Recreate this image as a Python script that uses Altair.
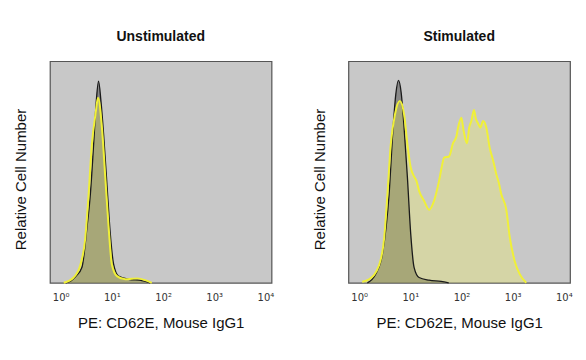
import altair as alt
import pandas as pd

# x positions are in decades (log10 of PE intensity), y is relative cell number (0-1)
tick_values = [0, 1, 2, 3, 4]
tick_labels = ["10⁰", "10¹", "10²", "10³", "10⁴"]

panel_titles = ["Unstimulated", "Stimulated"]

# Unstimulated - isotype control (black)
un_iso_x = [0.10, 0.20, 0.30, 0.416, 0.514, 0.58, 0.644, 0.696, 0.74, 0.787, 0.839, 0.904, 0.97, 1.034, 1.13, 1.327, 1.586, 1.75]
un_iso_y = [0.0, 0.008, 0.03, 0.07, 0.25, 0.40, 0.625, 0.82, 0.91, 0.82, 0.67, 0.445, 0.22, 0.084, 0.03, 0.016, 0.01, 0.0]
# Unstimulated - CD62E stained (yellow)
un_st_x = [0.06, 0.254, 0.384, 0.48, 0.546, 0.61, 0.68, 0.73, 0.806, 0.872, 0.937, 1.0, 1.1, 1.26, 1.39, 1.5, 1.65, 1.78]
un_st_y = [0.0, 0.024, 0.08, 0.20, 0.40, 0.625, 0.76, 0.835, 0.70, 0.475, 0.25, 0.084, 0.03, 0.016, 0.018, 0.02, 0.012, 0.0]

# Stimulated - isotype control (black)
st_iso_x = [0.16, 0.325, 0.455, 0.585, 0.663, 0.716, 0.768, 0.82, 0.878, 0.943, 1.008, 1.073, 1.171, 1.366, 1.6, 1.75]
st_iso_y = [0.0, 0.04, 0.13, 0.40, 0.70, 0.85, 0.913, 0.86, 0.70, 0.475, 0.22, 0.07, 0.024, 0.012, 0.006, 0.0]
# Stimulated - CD62E stained (yellow)
st_st_x = [0.06, 0.195, 0.39, 0.488, 0.553, 0.618, 0.70, 0.794, 0.878, 0.943, 1.008, 1.073, 1.12, 1.171, 1.268,
           1.366, 1.463, 1.561, 1.62, 1.659, 1.756, 1.834, 1.90, 1.932, 1.997, 2.042, 2.107, 2.15, 2.192, 2.244,
           2.28, 2.322, 2.37, 2.42, 2.485, 2.55, 2.62, 2.68, 2.73, 2.777, 2.875, 2.94, 3.037, 3.135, 3.265]
st_st_y = [0.005, 0.016, 0.08, 0.20, 0.40, 0.625, 0.76, 0.82, 0.76, 0.625, 0.52, 0.48, 0.46, 0.415, 0.37,
           0.33, 0.37, 0.46, 0.53, 0.565, 0.57, 0.63, 0.66, 0.70, 0.745, 0.685, 0.63, 0.70, 0.73, 0.78,
           0.74, 0.72, 0.70, 0.73, 0.70, 0.61, 0.55, 0.49, 0.45, 0.40, 0.33, 0.21, 0.10, 0.04, 0.0]

label_expr = " : ".join(
    [f"datum.value == {v} ? '{l}'" for v, l in zip(tick_values, tick_labels)]
) + " : ''"

FONT = "Liberation Sans"


def panel(title, iso_x, iso_y, st_x, st_y):
    iso = pd.DataFrame({"x": iso_x, "y": iso_y})
    st = pd.DataFrame({"x": st_x, "y": st_y})
    xenc = alt.X(
        "x:Q",
        scale=alt.Scale(domain=[-0.21, 4.12], nice=False, zero=False),
        axis=alt.Axis(
            values=tick_values, labelExpr=label_expr, title="PE: CD62E, Mouse IgG1",
            grid=False, ticks=False, domain=False, labelFontSize=10, labelColor="#333333",
            labelPadding=10, titlePadding=13, titleFontSize=15, titleFontWeight="normal",
            titleFont=FONT, labelFont="DejaVu Sans", titleColor="#111111",
        ),
    )
    yenc = alt.Y(
        "y:Q",
        scale=alt.Scale(domain=[0, 1], nice=False),
        axis=alt.Axis(
            title="Relative Cell Number", labels=False, ticks=False, domain=False, grid=False,
            titleFontSize=15, titleFontWeight="normal", titleFont=FONT, titlePadding=21,
            titleColor="#111111", titleY=118,
        ),
    )
    iso_area = alt.Chart(iso).mark_area(
        fill="#303030", fillOpacity=0.42, interpolate="monotone"
    ).encode(x=xenc, y=yenc)
    st_area = alt.Chart(st).mark_area(
        fill="#f8f850", fillOpacity=0.28, interpolate="monotone"
    ).encode(x=xenc, y=yenc)
    iso_line = alt.Chart(iso).mark_line(
        color="#1a1a1a", strokeWidth=1.3, interpolate="monotone"
    ).encode(x=xenc, y=yenc)
    st_line = alt.Chart(st).mark_line(
        color="#f0f038", strokeWidth=2, interpolate="monotone"
    ).encode(x=xenc, y=yenc)
    return alt.layer(iso_area, st_area, iso_line, st_line).properties(
        width=222, height=222,
        title=alt.TitleParams(title, fontSize=14, fontWeight="bold", font=FONT, offset=17, color="#111111"),
    )


chart = alt.hconcat(
    panel(panel_titles[0], un_iso_x, un_iso_y, un_st_x, un_st_y),
    panel(panel_titles[1], st_iso_x, st_iso_y, st_st_x, st_st_y),
    spacing=37,
).properties(
    padding={"left": 5, "top": 21, "right": 5, "bottom": 5},
    background="white",
).configure_view(
    fill="#c8c8c8", stroke="#555555", strokeWidth=1.2,
)

chart.save("out.html", embed_options={"renderer": "svg", "actions": False})
